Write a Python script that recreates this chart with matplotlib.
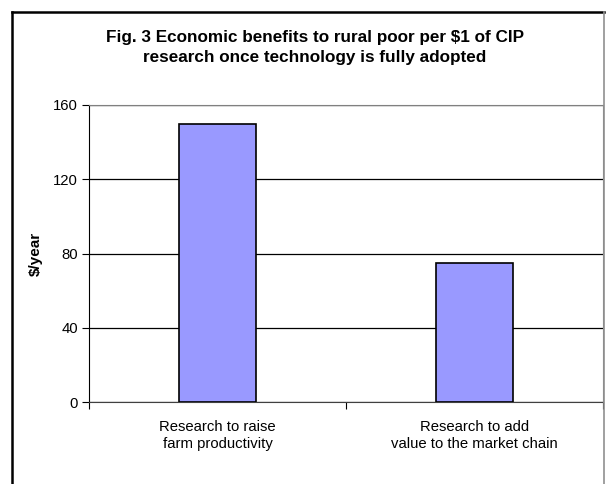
import matplotlib.pyplot as plt
from matplotlib.lines import Line2D

# data
categories = ['Research to raise\nfarm productivity', 'Research to add\nvalue to the market chain']
values = [150, 75]
yticks = [0, 40, 80, 120, 160]

plt.rcParams['font.family'] = ['Liberation Sans', 'DejaVu Sans']

W, H = 610, 484
fig = plt.figure(figsize=(W / 100, H / 100), dpi=100)

# plot area in pixels: x 89..603, y 105..402
ax = fig.add_axes([89 / W, 1 - 402 / H, (603 - 89) / W, (402 - 105) / H])

x = list(range(len(categories)))
ax.bar(x, values, width=0.296, color='#9999FF', edgecolor='black', linewidth=1.2, zorder=3)

ax.set_xlim(-0.5, len(categories) - 0.5)
ax.set_ylim(0, 160)
ax.set_yticks(yticks)
ax.tick_params(axis='y', direction='out', length=5, labelsize=10.7, pad=3, color='black')
ax.yaxis.grid(True, color='black', linewidth=0.9, zorder=0)

# category ticks between bars, labels centred under bars
ax.set_xticks([-0.5, 0.5, 1.5])
ax.set_xticklabels([])
ax.tick_params(axis='x', which='major', direction='out', length=5, color='black')
ax.set_xticks(x, minor=True)
ax.set_xticklabels(categories, minor=True, fontsize=10.7, linespacing=1.3)
ax.tick_params(axis='x', which='minor', length=0, pad=13)

ax.set_ylabel('$/year', fontsize=11, fontweight='bold', labelpad=7)

for s in ['top', 'right']:
    ax.spines[s].set_color('#808080')
ax.spines['left'].set_color('black')
ax.spines['bottom'].set_color('#404040')

fig.text(314.5 / W, 1 - 47.5 / H, 'Fig. 3 Economic benefits to rural poor per $1 of CIP\nresearch once technology is fully adopted',
         ha='center', va='center', fontsize=12.3, fontweight='bold', linespacing=1.45)

# chart area border
fig.add_artist(Line2D([12 / W, 12 / W], [0, 1 - 12 / H], transform=fig.transFigure, color='black', lw=1.8))
fig.add_artist(Line2D([12 / W, 604 / W], [1 - 12 / H, 1 - 12 / H], transform=fig.transFigure, color='black', lw=1.8))
fig.add_artist(Line2D([604 / W, 604 / W], [0, 1 - 12 / H], transform=fig.transFigure, color='#909090', lw=1.2))

fig.savefig('out.png', dpi=100)
